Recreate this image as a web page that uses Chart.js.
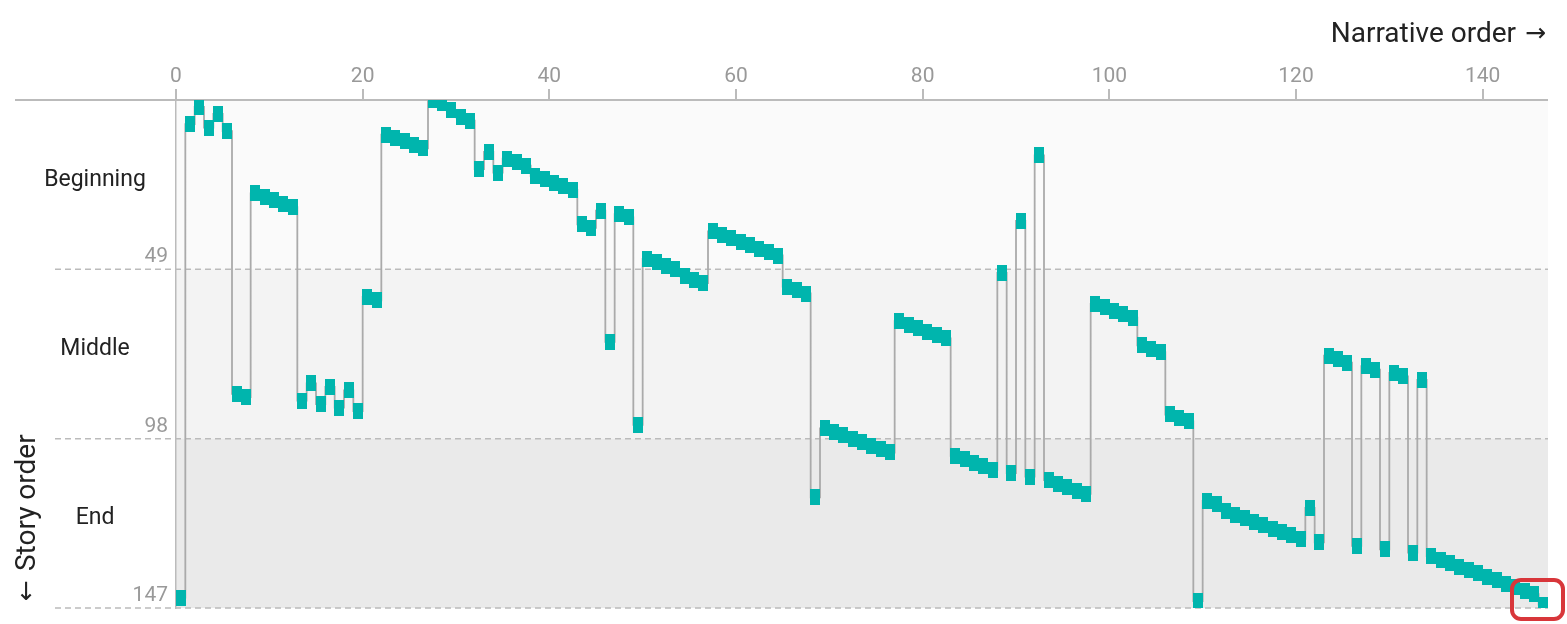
<!DOCTYPE html>
<html>
<head>
<meta charset="utf-8">
<script src="https://cdn.jsdelivr.net/npm/chart.js@4.4.1/dist/chart.umd.min.js"></script>
<style>
  body { margin: 0; background: #fff; }
  #wrap { width: 1567px; height: 624px; }
</style>
</head>
<body>
<div id="wrap"><canvas id="myChart" width="1567" height="624"></canvas></div>
<script>
// story position of each scene, in narrative order
var storyOrder = [144, 7, 2, 8, 4, 9, 85, 86, 27, 28,
    29, 30, 31, 87, 82, 88, 83, 89, 84, 90,
    57, 58, 10, 11, 12, 13, 14, 0, 1, 3,
    5, 6, 20, 15, 21, 17, 18, 19, 22, 23,
    24, 25, 26, 36, 37, 32, 70, 33, 34, 94,
    46, 47, 48, 49, 51, 52, 53, 38, 39, 40,
    41, 42, 43, 44, 45, 54, 55, 56, 115, 95,
    96, 97, 98, 99, 100, 101, 102, 64, 65, 66,
    67, 68, 69, 103, 104, 105, 106, 107, 50, 108,
    35, 109, 16, 110, 111, 112, 113, 114, 59, 60,
    61, 62, 63, 71, 72, 73, 91, 92, 93, 145,
    116, 117, 119, 120, 121, 122, 123, 124, 125, 126,
    127, 118, 128, 74, 75, 76, 129, 77, 78, 130,
    79, 80, 131, 81, 132, 133, 134, 135, 136, 137,
    138, 139, 140, 141, 142, 143, 146];

var sectionNames = ['Beginning', 'Middle', 'End'];
var sectionBounds = [0, 49, 98, 147];
var xTickStep = 20;
var xTitle = 'Narrative order';
var yTitle = 'Story order';

var bandColors = ['#fafafa', '#f3f3f3', '#eaeaea'];
var FONT = 'Roboto, "Noto Sans", sans-serif';
var ARROW_FONT = '"DejaVu Sans", sans-serif';

// marker: a small teal block
var marker = document.createElement('canvas');
marker.width = 10;
marker.height = 16;
var mctx = marker.getContext('2d');
mctx.fillStyle = '#00b5ad';
mctx.fillRect(0, 0, 10, 16);

var points = storyOrder.map(function (v, i) {
    return { x: i + 0.5, y: v };
});

var decor = {
    id: 'decor',
    beforeDraw: function (chart) {
        var ctx = chart.ctx, a = chart.chartArea, y = chart.scales.y;
        ctx.save();
        // bands
        for (var k = 0; k < sectionNames.length; k++) {
            var y0 = y.getPixelForValue(sectionBounds[k]);
            var y1 = y.getPixelForValue(sectionBounds[k + 1]);
            ctx.fillStyle = bandColors[k];
            ctx.fillRect(a.left, y0, a.right - a.left, y1 - y0);
        }
        // dashed section lines + labels
        ctx.strokeStyle = '#bbbbbb';
        ctx.lineWidth = 1.5;
        ctx.setLineDash([6, 4]);
        for (var k = 1; k < sectionBounds.length; k++) {
            var py = y.getPixelForValue(sectionBounds[k]);
            ctx.beginPath();
            ctx.moveTo(55, py);
            ctx.lineTo(a.right, py);
            ctx.stroke();
            ctx.fillStyle = '#999999';
            ctx.font = '21px ' + FONT;
            ctx.textAlign = 'right';
            ctx.textBaseline = 'alphabetic';
            ctx.fillText(String(sectionBounds[k]), 168, py - 7);
        }
        ctx.setLineDash([]);
        // top line
        ctx.lineWidth = 2;
        ctx.beginPath();
        ctx.moveTo(15, y.getPixelForValue(0));
        ctx.lineTo(a.right, y.getPixelForValue(0));
        ctx.stroke();
        // section names
        ctx.fillStyle = '#222222';
        ctx.font = '23px ' + FONT;
        ctx.textAlign = 'center';
        for (var k = 0; k < sectionNames.length; k++) {
            var mid = (y.getPixelForValue(sectionBounds[k]) + y.getPixelForValue(sectionBounds[k + 1])) / 2;
            ctx.fillText(sectionNames[k], 95, mid + 1);
        }
        ctx.restore();
    },
    afterDraw: function (chart) {
        var ctx = chart.ctx, a = chart.chartArea;
        ctx.save();
        ctx.fillStyle = '#222222';
        ctx.textBaseline = 'alphabetic';
        // x title with arrow
        ctx.font = '25px ' + ARROW_FONT;
        var aw = ctx.measureText('\u2192').width;
        ctx.textAlign = 'right';
        var ax = a.right - 2;
        ctx.fillText('\u2192', ax, 41);
        ctx.font = '28px ' + FONT;
        ctx.fillText(xTitle, ax - aw - 9, 42);
        // rotated y title, arrow first
        ctx.translate(35, 601);
        ctx.rotate(-Math.PI / 2);
        ctx.textAlign = 'left';
        ctx.font = '25px ' + ARROW_FONT;
        ctx.fillText('\u2190', 0, -1);
        var lw = ctx.measureText('\u2190').width;
        ctx.font = '28px ' + FONT;
        ctx.fillText(yTitle, lw + 9, 0);
        ctx.restore();
        // highlight box round the last scene
        ctx.save();
        ctx.strokeStyle = '#d8363a';
        ctx.lineWidth = 4;
        ctx.beginPath();
        ctx.roundRect(1512, 580, 51, 39, 9);
        ctx.stroke();
        ctx.restore();
    }
};

var ctx = document.getElementById('myChart').getContext('2d');
var myChart = new Chart(ctx, {
    type: 'line',
    data: {
        datasets: [{
            label: 'Scenes',
            data: points,
            stepped: 'middle',
            borderColor: '#aaaaaa',
            borderWidth: 1.8,
            fill: false,
            pointStyle: marker,
            pointRadius: 5,
            pointHoverRadius: 5
        }]
    },
    options: {
        responsive: false,
        devicePixelRatio: 1,
        animation: false,
        events: [],
        layout: { padding: { left: 0, right: 19, top: 0, bottom: 16 } },
        plugins: {
            legend: { display: false },
            tooltip: { enabled: false }
        },
        scales: {
            x: {
                type: 'linear',
                position: 'top',
                min: 0,
                max: sectionBounds[sectionBounds.length - 1],
                afterFit: function (scale) { scale.height = 100; },
                border: { display: false },
                grid: {
                    drawOnChartArea: false,
                    drawTicks: true,
                    tickLength: 11,
                    color: '#bbbbbb',
                    lineWidth: 2
                },
                ticks: {
                    stepSize: xTickStep,
                    includeBounds: false,
                    maxRotation: 0,
                    padding: 0,
                    color: '#999999',
                    font: { family: FONT, size: 21 }
                }
            },
            y: {
                type: 'linear',
                reverse: true,
                min: 0,
                max: sectionBounds[sectionBounds.length - 1],
                afterFit: function (scale) { scale.width = 176; },
                border: { display: true, color: '#bbbbbb', width: 1.5 },
                grid: { display: false },
                ticks: { display: false }
            }
        }
    },
    plugins: [decor]
});
</script>
</body>
</html>
